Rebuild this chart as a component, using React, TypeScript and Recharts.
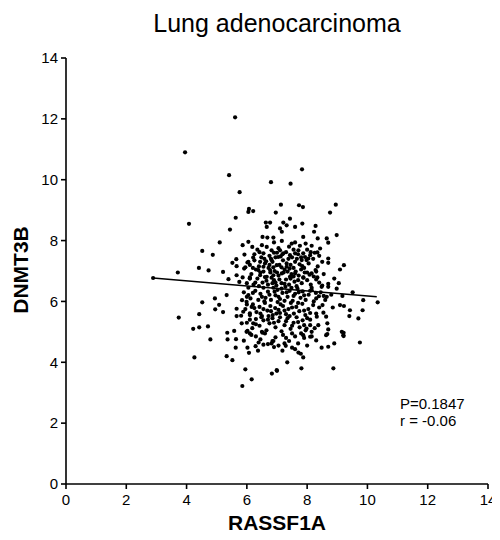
// Lung adenocarcinoma — RASSF1A vs DNMT3B expression scatter with linear fit
import { ReferenceLine, Scatter, ScatterChart, XAxis, YAxis } from 'recharts';

const FONT = '"Liberation Sans", Arial, sans-serif';

const title = 'Lung adenocarcinoma';
const xLabel = 'RASSF1A';
const yLabel = 'DNMT3B';
const axisTicks = [0, 2, 4, 6, 8, 10, 12, 14];
const statsLines = ['P=0.1847', 'r = -0.06'];

// fitted line end points
const fitX = [2.89, 10.31];
const fitY = [6.77, 6.15];

// samples outside the dense core: [RASSF1A, DNMT3B]
const outerSamples: [number, number][] = [
  [5.61, 12.05], [3.95, 10.9], [5.41, 10.15], [6.8, 9.92], [5.76, 9.59], [6.07, 9.04], [6.21, 8.97],
  [7.83, 10.34], [7.45, 9.87], [7.13, 9.18], [7.73, 9.16], [7.86, 9.1], [8.95, 9.18],
  [4.08, 8.55], [5.63, 8.75], [5.44, 8.36], [6.05, 8.94], [5.1, 7.94], [4.52, 7.66], [4.87, 7.53],
  [5.86, 7.85], [6.05, 7.96], [5.92, 7.54], [5.65, 7.39], [5.52, 7.27], [5.66, 7.16], [6.02, 7.28],
  [5.95, 7.12], [4.41, 7.1], [4.73, 7.02], [3.71, 6.95], [5.21, 6.97], [5.66, 6.86], [2.89, 6.77],
  [5.39, 6.73], [5.33, 6.21], [4.52, 5.97], [4.94, 6.1], [5.08, 5.89], [5.84, 6.04], [4.95, 5.74],
  [5.21, 5.65], [4.42, 5.58], [3.74, 5.47], [5.66, 5.76], [5.66, 5.52], [5.81, 5.53], [4.22, 5.1],
  [4.42, 5.15], [4.71, 5.18], [5.35, 4.97], [5.58, 5.03], [4.79, 4.75], [5.36, 4.75], [5.64, 4.76],
  [6.02, 5.03], [5.75, 6.64], [4.26, 4.16], [5.63, 4.48], [5.9, 4.71], [6.02, 4.48], [6.07, 4.31],
  [6.29, 4.53], [6.39, 4.65], [6.37, 4.38], [5.33, 4.2], [5.52, 4.07], [5.95, 3.77], [6.16, 3.44],
  [5.85, 3.22], [6.83, 3.63], [6.99, 3.74], [6.82, 4.62], [6.88, 4.7], [6.52, 4.97],
  [8.67, 4.93], [9.21, 4.97], [9.21, 4.86], [9.75, 4.65], [8.9, 4.62], [8.7, 4.51], [8.48, 4.48],
  [7.87, 4.16], [7.34, 4.0], [7.81, 3.8], [8.87, 3.8], [7.0, 3.72], [7.71, 4.32], [7.79, 4.28],
  [7.6, 4.43], [7.29, 4.54], [7.18, 4.38], [7.5, 4.48],
  [10.34, 5.97], [9.86, 6.04], [9.51, 6.3], [9.17, 6.18], [8.98, 6.42], [8.7, 6.48], [8.48, 6.48],
  [8.39, 6.17], [8.65, 6.15], [8.29, 6.28], [8.15, 6.37], [9.09, 5.88], [9.22, 5.85], [8.85, 5.8],
  [9.42, 5.71], [9.84, 5.71], [9.4, 5.52], [9.7, 5.44], [8.51, 5.88], [8.54, 5.63], [8.32, 5.5],
  [8.63, 5.5], [8.67, 5.28], [8.37, 5.22], [8.1, 5.22], [8.7, 5.08], [8.63, 4.89], [9.15, 5.0],
  [9.2, 4.89], [8.15, 5.0], [8.1, 4.84], [7.87, 4.89], [7.98, 5.11],
];

// upper part of the cloud
const upperSamples: [number, number][] = [
  [8.76, 8.92], [6.96, 8.92], [6.63, 8.59], [6.77, 8.59], [6.66, 8.45], [7.21, 8.59], [7.43, 8.72],
  [7.32, 8.5], [7.1, 8.4], [7.16, 8.29], [7.6, 8.45], [7.84, 8.56], [8.28, 8.48], [8.23, 8.29],
  [8.98, 8.18], [7.87, 8.12], [8.35, 8.07], [8.65, 8.07], [8.7, 7.93], [6.52, 8.12], [6.68, 8.1],
  [6.88, 8.1], [6.9, 7.94], [7.16, 7.99], [7.49, 7.9], [7.6, 7.94], [7.76, 7.83], [7.95, 7.9],
  [8.15, 7.83], [8.43, 7.74], [8.34, 7.61], [6.18, 7.79], [6.66, 7.79], [6.21, 7.44], [6.55, 7.58],
  [6.82, 7.68], [7.1, 7.68], [7.21, 7.58], [6.05, 7.3], [5.91, 7.08], [6.44, 7.3], [6.64, 7.32],
  [6.82, 7.36], [7.04, 7.46], [7.43, 7.52], [7.71, 7.68], [7.87, 7.58], [7.93, 7.46], [8.04, 7.41],
  [7.98, 7.36], [8.1, 7.52], [7.82, 7.36], [7.6, 7.3], [8.7, 7.41], [8.7, 7.27], [9.22, 7.19],
  [9.09, 7.05], [8.28, 7.03], [8.15, 6.92], [7.84, 7.16], [7.32, 7.14], [6.99, 7.19], [6.77, 7.03],
  [6.55, 7.14], [6.38, 7.03], [6.44, 6.86], [6.66, 6.81], [6.88, 6.86], [7.16, 6.92], [7.43, 6.81],
  [7.6, 6.92], [7.87, 6.79], [8.34, 6.79], [5.86, 6.79], [6.1, 6.79], [6.1, 6.76], [6.05, 6.21],
  [5.99, 5.99], [6.16, 5.82], [5.88, 5.66], [6.1, 5.61], [5.83, 5.28], [6.21, 5.28], [5.99, 5.0],
  [6.1, 4.95],
];

// dense core, estimated
const coreSamples: [number, number][] = [
  [6.35, 7.7], [6.5, 7.85], [6.9, 7.6], [7.05, 7.75], [7.3, 7.62], [7.55, 7.7], [7.7, 7.55],
  [8.0, 7.7], [8.25, 7.6], [6.75, 7.5], [7.4, 7.8],
  [6.1, 7.2], [6.25, 7.35], [6.3, 7.05], [6.48, 7.45], [6.6, 7.25], [6.72, 7.1], [6.85, 7.3],
  [6.95, 7.45], [7.08, 7.2], [7.2, 7.35], [7.25, 7.05], [7.38, 7.4], [7.45, 7.2], [7.55, 7.1],
  [7.66, 7.4], [7.75, 7.22], [7.9, 7.1], [8.05, 7.25], [8.2, 7.4], [8.35, 7.15], [8.5, 7.3],
  [6.92, 7.0], [7.12, 7.48], [7.5, 7.45],
  [6.0, 6.6], [6.15, 6.9], [6.22, 6.55], [6.35, 6.75], [6.45, 6.95], [6.52, 6.62], [6.6, 6.8],
  [6.7, 6.55], [6.78, 6.95], [6.9, 6.7], [6.98, 6.52], [7.05, 6.85], [7.15, 6.6], [7.22, 6.95],
  [7.3, 6.72], [7.4, 6.55], [7.48, 6.9], [7.58, 6.65], [7.65, 6.5], [7.72, 6.85], [7.82, 6.6],
  [7.92, 6.95], [8.0, 6.7], [8.12, 6.55], [8.22, 6.82], [8.4, 6.62], [8.55, 6.9], [8.7, 6.58],
  [8.9, 6.75], [9.05, 6.6], [7.35, 6.98], [6.85, 6.6],
  [5.9, 6.3], [6.05, 6.45], [6.12, 6.1], [6.28, 6.35], [6.38, 6.05], [6.45, 6.25], [6.55, 6.45],
  [6.62, 6.12], [6.7, 6.32], [6.8, 6.05], [6.88, 6.45], [6.95, 6.2], [7.02, 6.38], [7.1, 6.08],
  [7.18, 6.28], [7.28, 6.48], [7.35, 6.15], [7.42, 6.35], [7.52, 6.02], [7.6, 6.25], [7.68, 6.42],
  [7.78, 6.12], [7.85, 6.33], [7.95, 6.05], [8.05, 6.22], [8.15, 6.45], [8.3, 6.1], [8.45, 6.3],
  [8.6, 6.05], [8.8, 6.22], [6.58, 6.0], [7.25, 6.02], [7.48, 6.45],
  [5.95, 5.75], [6.1, 5.55], [6.2, 5.9], [6.32, 5.65], [6.42, 5.82], [6.5, 5.52], [6.6, 5.95],
  [6.68, 5.7], [6.78, 5.85], [6.86, 5.55], [6.94, 5.78], [7.02, 5.98], [7.1, 5.62], [7.2, 5.85],
  [7.3, 5.58], [7.38, 5.75], [7.46, 5.95], [7.56, 5.6], [7.64, 5.82], [7.74, 5.68], [7.84, 5.92],
  [7.94, 5.55], [8.04, 5.75], [8.2, 5.88], [8.3, 5.6], [6.72, 5.52], [7.12, 5.9],
  [6.0, 5.3], [6.18, 5.12], [6.3, 5.42], [6.42, 5.2], [6.55, 5.38], [6.65, 5.05], [6.75, 5.28],
  [6.85, 5.45], [6.95, 5.15], [7.05, 5.35], [7.15, 5.02], [7.25, 5.22], [7.35, 5.45], [7.45, 5.1],
  [7.55, 5.3], [7.65, 5.48], [7.75, 5.15], [7.85, 5.38], [7.95, 5.05], [8.1, 5.4], [8.25, 5.12],
  [6.5, 5.0],
  [6.15, 4.9], [6.45, 4.75], [6.6, 4.95], [6.7, 4.6], [6.95, 4.82], [7.05, 4.55], [7.2, 4.9],
  [7.4, 4.7], [7.5, 4.95], [7.7, 4.62], [7.9, 4.8], [8.0, 4.55], [8.3, 4.72], [6.55, 4.58],
  [6.25, 7.55], [6.42, 7.62], [6.58, 7.4], [6.8, 7.4], [7.0, 7.6], [7.18, 7.55], [7.32, 7.25],
  [7.6, 7.58], [7.8, 7.45], [8.12, 7.62], [8.4, 7.5],
  [6.2, 7.1], [6.4, 7.15], [6.55, 6.98], [6.75, 7.2], [6.88, 7.12], [7.0, 6.95], [7.15, 7.12],
  [7.42, 7.08], [7.62, 6.98], [7.8, 7.05], [8.0, 6.95], [8.3, 6.98],
  [6.1, 6.75], [6.28, 6.62], [6.4, 6.5], [6.65, 6.68], [6.82, 6.78], [6.95, 6.62], [7.08, 6.72],
  [7.25, 6.58], [7.45, 6.75], [7.55, 6.82], [7.7, 6.7], [7.88, 6.78], [8.08, 6.88], [8.3, 6.72],
  [8.5, 6.52],
  [6.0, 6.15], [6.2, 6.28], [6.5, 6.15], [6.75, 6.22], [6.92, 6.32], [7.05, 6.15], [7.15, 6.42],
  [7.32, 6.3], [7.55, 6.18], [7.72, 6.3], [7.9, 6.2], [8.1, 6.35], [8.22, 6.0], [8.55, 6.18],
  [6.0, 5.9], [6.25, 5.78], [6.45, 5.6], [6.55, 5.75], [6.8, 5.68], [6.98, 5.6], [7.05, 5.72],
  [7.25, 5.7], [7.42, 5.52], [7.5, 5.8], [7.7, 5.95], [7.9, 5.7], [8.1, 5.62], [8.4, 5.8],
  [6.1, 5.4], [6.3, 5.25], [6.48, 5.48], [6.7, 5.4], [6.9, 5.3], [7.1, 5.48], [7.3, 5.35],
  [7.5, 5.2], [7.7, 5.32], [7.9, 5.22], [8.0, 5.45],
  [6.3, 4.85], [6.85, 4.7], [7.3, 4.8], [7.6, 4.85], [7.8, 4.95], [8.15, 4.85], [6.9, 4.5],
  [7.25, 4.62],
];

const points = [...outerSamples, ...upperSamples, ...coreSamples].map(([x, y]) => ({ x, y }));

const Dot = (props: any) => <circle cx={props.cx} cy={props.cy} r={2.1} fill="#000" />;

export default function App() {
  const tick = { fontSize: 15, fill: '#000', fontFamily: FONT };
  return (
    <div style={{ position: 'relative', width: 492, height: 524, fontFamily: FONT, color: '#000' }}>
      <style>{'.recharts-surface { overflow: visible; }'}</style>
      <div
        style={{
          position: 'absolute',
          left: 58,
          width: 422,
          top: 0,
          textAlign: 'center',
          fontSize: 25,
          lineHeight: '30px',
        }}
      >
        {title}
      </div>
      <div
        style={{
          position: 'absolute',
          left: 13 - 60,
          top: 262 - 13,
          width: 120,
          height: 26,
          lineHeight: '26px',
          textAlign: 'center',
          fontSize: 21,
          fontWeight: 'bold',
          transform: 'rotate(-90deg)',
        }}
      >
        {yLabel}
      </div>
      <div
        style={{
          position: 'absolute',
          left: 58,
          width: 422,
          top: 503,
          height: 24,
          lineHeight: '24px',
          textAlign: 'center',
          fontSize: 21,
          fontWeight: 'bold',
        }}
      >
        {xLabel}
      </div>
      <div
        style={{
          position: 'absolute',
          left: 392,
          top: 387,
          fontSize: 15,
          lineHeight: '17px',
        }}
      >
        {statsLines.map((s) => (
          <div key={s}>{s}</div>
        ))}
      </div>
      <ScatterChart width={492} height={500} margin={{ top: 50, right: 12, bottom: 0, left: 0 }}>
        <XAxis
          type="number"
          dataKey="x"
          domain={[0, 14]}
          ticks={axisTicks}
          height={24}
          tickSize={5}
          tickMargin={5}
          tick={tick}
          axisLine={{ stroke: '#000', strokeWidth: 1.6 }}
          tickLine={{ stroke: '#000', strokeWidth: 1.6 }}
        />
        <YAxis
          type="number"
          dataKey="y"
          domain={[0, 14]}
          ticks={axisTicks}
          width={58}
          tickSize={5}
          tickMargin={3}
          tick={tick}
          axisLine={{ stroke: '#000', strokeWidth: 1.6 }}
          tickLine={{ stroke: '#000', strokeWidth: 1.6 }}
        />
        <Scatter data={points} shape={Dot} isAnimationActive={false} />
        <ReferenceLine
          segment={[
            { x: fitX[0], y: fitY[0] },
            { x: fitX[1], y: fitY[1] },
          ]}
          stroke="#000"
          strokeWidth={1.5}
          ifOverflow="visible"
        />
      </ScatterChart>
    </div>
  );
}
